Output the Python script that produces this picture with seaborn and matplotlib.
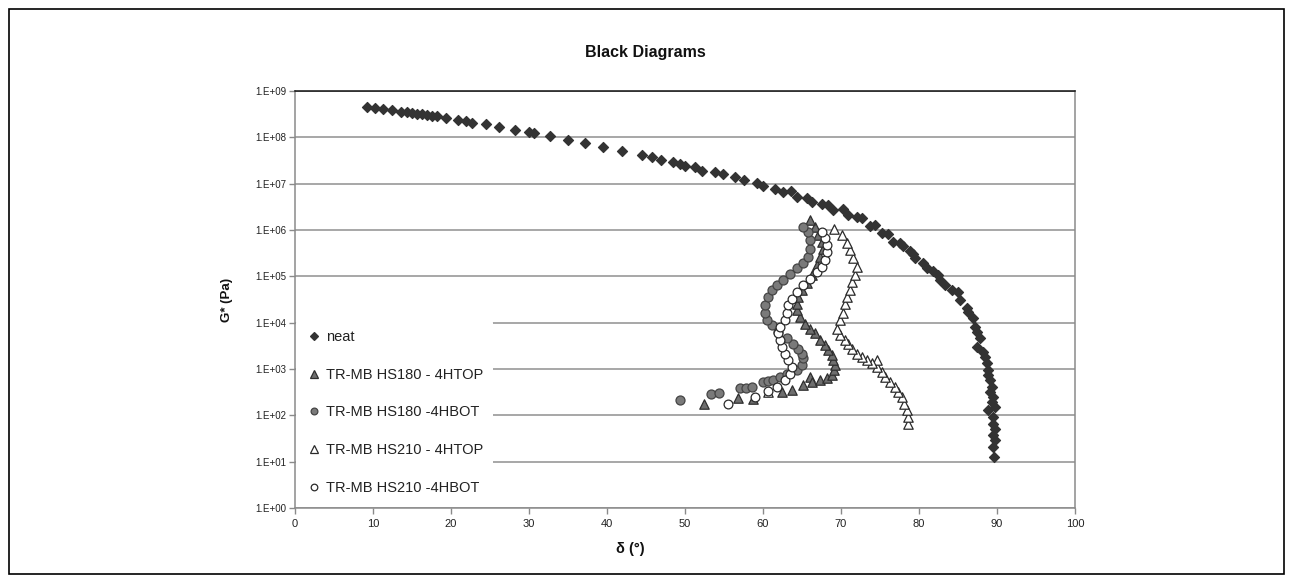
import numpy as np
import pandas as pd
import matplotlib
matplotlib.use("Agg")
import matplotlib.pyplot as plt
import seaborn as sns
from matplotlib.lines import Line2D
from matplotlib.patches import Rectangle

# ---------------- data ----------------
neat_delta = [9.27, 10.26, 11.32, 12.48, 13.59, 14.32, 14.96, 15.6, 16.24, 16.88, 17.52, 18.25,
              19.32, 20.85, 21.92, 22.74, 24.49, 26.2, 28.25, 30.04, 30.64, 32.69, 34.96, 37.22,
              39.53, 41.97, 44.44, 45.8, 46.9, 48.42, 49.36, 50.0, 51.28, 52.14, 53.85, 54.91,
              56.41, 57.56, 59.19, 60.04, 61.54, 62.61, 63.55, 64.32, 65.6, 66.24, 67.52, 68.38,
              69.02, 70.3, 70.94, 72.09, 72.65, 73.72, 74.36, 75.21, 76.0, 76.7, 77.56, 77.99,
              78.85, 79.27, 79.49, 80.56, 80.98, 81.84, 82.48, 82.69, 83.33, 84.19, 85.04, 85.26,
              86.11, 86.32, 86.97, 87.18, 87.39, 87.82, 87.39, 88.25, 88.46, 88.68, 88.89, 88.89,
              89.1, 89.32, 89.1, 89.53, 89.32, 88.89, 89.74, 89.53, 89.53, 89.74, 89.53, 89.74,
              89.53, 89.62]
neat_logG = [8.66, 8.64, 8.61, 8.58, 8.55, 8.54, 8.52, 8.51, 8.50, 8.48, 8.47, 8.45,
             8.42, 8.37, 8.35, 8.32, 8.28, 8.22, 8.16, 8.11, 8.09, 8.02, 7.95, 7.88,
             7.79, 7.70, 7.62, 7.58, 7.52, 7.47, 7.42, 7.39, 7.35, 7.28, 7.26, 7.21,
             7.14, 7.08, 7.01, 6.95, 6.88, 6.82, 6.85, 6.72, 6.70, 6.61, 6.56, 6.53,
             6.43, 6.45, 6.32, 6.29, 6.26, 6.08, 6.11, 5.93, 5.91, 5.75, 5.72, 5.65,
             5.55, 5.48, 5.39, 5.28, 5.17, 5.12, 5.03, 4.92, 4.81, 4.70, 4.67, 4.49,
             4.31, 4.23, 4.09, 3.91, 3.80, 3.66, 3.48, 3.37, 3.26, 3.12, 2.97, 2.87,
             2.76, 2.61, 2.51, 2.40, 2.29, 2.11, 2.18, 1.97, 1.82, 1.71, 1.57, 1.46,
             1.32, 1.09]

hs180top_delta = [52.44, 56.84, 58.76, 62.39, 63.68, 65.09, 66.03, 66.24, 67.31, 68.16, 68.8,
                  69.1, 69.23, 69.02, 68.8, 68.38, 67.95, 67.31, 66.67, 66.03, 65.38, 64.74,
                  64.4, 64.32, 64.53, 64.96, 65.6, 66.24, 66.88, 67.31, 67.74, 67.52, 67.09,
                  66.67, 66.03]
hs180top_logG = [2.25, 2.38, 2.35, 2.51, 2.54, 2.65, 2.83, 2.72, 2.76, 2.80, 2.87,
                 2.97, 3.08, 3.19, 3.30, 3.41, 3.51, 3.62, 3.77, 3.87, 3.98, 4.13,
                 4.27, 4.41, 4.56, 4.70, 4.85, 5.03, 5.24, 5.42, 5.60, 5.75, 5.89,
                 6.06, 6.21]

hs180bot_delta = [49.3, 53.3, 54.4, 57.1, 57.8, 58.55, 60.04, 60.7, 61.3, 62.18, 63.03, 64.32,
                  64.96, 65.17, 64.96, 64.53, 63.89, 63.03, 61.97, 61.11, 60.47, 60.26, 60.26,
                  60.68, 61.11, 61.75, 62.61, 63.46, 64.32, 65.17, 65.81, 66.03, 66.03, 65.81,
                  65.17]
hs180bot_logG = [2.34, 2.46, 2.48, 2.59, 2.60, 2.61, 2.72, 2.74, 2.76, 2.83, 2.90, 2.97,
                 3.08, 3.23, 3.33, 3.44, 3.55, 3.66, 3.80, 3.95, 4.05, 4.20, 4.38,
                 4.56, 4.70, 4.81, 4.92, 5.06, 5.17, 5.28, 5.42, 5.60, 5.78, 5.96,
                 6.07]

hs210top_delta = [78.63, 78.63, 78.42, 78.08, 77.78, 77.35, 76.92, 76.28, 75.64, 75.21, 74.57,
                  74.57, 73.93, 73.29, 72.65, 72.01, 71.37, 70.94, 70.51, 69.87, 69.44, 69.87,
                  70.3, 70.51, 70.73, 71.15, 71.37, 71.79, 72.01, 71.58, 71.15, 70.73, 70.09,
                  69.1, 60.6]
hs210top_logG = [1.81, 1.97, 2.11, 2.25, 2.40, 2.51, 2.62, 2.72, 2.83, 2.94, 3.05,
                 3.19, 3.12, 3.19, 3.26, 3.33, 3.44, 3.55, 3.62, 3.73, 3.87, 4.05,
                 4.20, 4.41, 4.56, 4.70, 4.88, 5.03, 5.21, 5.39, 5.57, 5.71, 5.89,
                 6.03, 2.51]

hs210bot_delta = [55.56, 58.97, 60.68, 61.75, 62.82, 63.46, 63.68, 63.25, 62.82, 62.39, 62.18,
                  61.97, 62.18, 62.82, 63.03, 63.25, 63.68, 64.32, 65.17, 66.03, 66.88, 67.52,
                  67.95, 68.16, 68.16, 67.95, 67.52]
hs210bot_logG = [2.24, 2.40, 2.53, 2.62, 2.76, 2.90, 3.05, 3.19, 3.33, 3.48, 3.62,
                 3.77, 3.91, 4.05, 4.20, 4.38, 4.52, 4.67, 4.81, 4.95, 5.10, 5.21,
                 5.35, 5.53, 5.67, 5.82, 5.96]

series_names = ["neat", "TR-MB HS180 - 4HTOP", "TR-MB HS180 -4HBOT",
                "TR-MB HS210 - 4HTOP", "TR-MB HS210 -4HBOT"]
x_ticks = [0, 10, 20, 30, 40, 50, 60, 70, 80, 90, 100]
y_exponents = [0, 1, 2, 3, 4, 5, 6, 7, 8, 9]

# ---------------- build table ----------------
pairs = [(neat_delta, neat_logG), (hs180top_delta, hs180top_logG),
         (hs180bot_delta, hs180bot_logG), (hs210top_delta, hs210top_logG),
         (hs210bot_delta, hs210bot_logG)]
frames = []
for name, (d, lg) in zip(series_names, pairs):
    frames.append(pd.DataFrame({"delta": d, "G": 10.0 ** np.asarray(lg), "series": name}))
df = pd.concat(frames, ignore_index=True)

styles = {
    series_names[0]: dict(marker="D", fc="#333333", ec="#333333", s=26),
    series_names[1]: dict(marker="^", fc="#6e6e6e", ec="#2e2e2e", s=46),
    series_names[2]: dict(marker="o", fc="#7a7a7a", ec="#444444", s=42),
    series_names[3]: dict(marker="^", fc="white", ec="#2a2a2a", s=46),
    series_names[4]: dict(marker="o", fc="white", ec="#2a2a2a", s=40),
}

# ---------------- figure ----------------
sns.set_theme(style="white")
plt.rcParams["font.family"] = ["Liberation Sans", "DejaVu Sans"]

W, H = 1293, 583
fig = plt.figure(figsize=(W / 100, H / 100), dpi=100)
fig.patch.set_facecolor("white")
L, R, T, B = 295, 1075, 91, 508
ax = fig.add_axes([L / W, 1 - B / H, (R - L) / W, (B - T) / H])

for name in series_names:
    st = styles[name]
    sub = df[df["series"] == name]
    sns.scatterplot(data=sub, x="delta", y="G", marker=st["marker"], s=st["s"],
                    color=st["fc"], edgecolor=st["ec"], linewidth=0.9, ax=ax,
                    legend=False, zorder=3)

ax.set_yscale("log")
ax.set_xlim(0, 100)
ax.set_ylim(1, 1e9)
ax.set_yticks([10.0 ** e for e in y_exponents])
ax.set_yticklabels([f"1.E+{e:02d}" for e in y_exponents])
ax.yaxis.set_minor_locator(matplotlib.ticker.NullLocator())
ax.set_xticks(x_ticks)
ax.set_xticklabels([str(v) for v in x_ticks])

ax.yaxis.grid(True, color="#8f8f8f", lw=1.1, zorder=0)
ax.xaxis.grid(False)
ax.set_axisbelow(True)
for side in ["left", "bottom", "right"]:
    ax.spines[side].set_color("#8a8a8a")
    ax.spines[side].set_linewidth(1.1)
ax.spines["top"].set_color("#111111")
ax.spines["top"].set_linewidth(1.1)
ax.tick_params(axis="y", which="major", direction="out", length=4, width=1,
               color="#8a8a8a", labelsize=7, labelcolor="#222222", pad=2)
ax.tick_params(axis="x", which="major", direction="out", length=4, width=1,
               color="#8a8a8a", labelsize=8, labelcolor="#222222", pad=4)
ax.tick_params(axis="x", bottom=True)
ax.tick_params(axis="y", left=True)

ax.set_xlabel("")
ax.set_ylabel("")
fig.text(630 / W, 1 - 549 / H, "δ (°)", ha="center", va="center",
         fontsize=10.5, fontweight="bold", color="#111111")
fig.text(227 / W, 1 - 300 / H, "G* (Pa)", ha="center", va="center", rotation=90,
         fontsize=9.5, fontweight="bold", color="#111111")
fig.text(645 / W, 1 - 52 / H, "Black Diagrams", ha="center", va="center",
         fontsize=11.5, fontweight="bold", color="#111111")

handles = []
for name in series_names:
    st = styles[name]
    handles.append(Line2D([], [], linestyle="none", marker=st["marker"],
                          markersize=np.sqrt(st["s"]) * 0.75, markerfacecolor=st["fc"],
                          markeredgecolor=st["ec"], markeredgewidth=0.9))
leg = ax.legend(handles, series_names, loc="upper left",
                bbox_to_anchor=(296 / W, 1 - 320 / H), bbox_transform=fig.transFigure,
                frameon=True, facecolor="white", edgecolor="none", framealpha=1,
                fontsize=10.5, labelspacing=1.62, handlelength=1.0, handletextpad=0.35,
                borderpad=0.7, borderaxespad=0)
leg.set_zorder(10)
for t in leg.get_texts():
    t.set_color("#222222")

fig.patches.append(Rectangle((9 / W, 9 / H), (W - 18) / W, (H - 18) / H,
                             transform=fig.transFigure, fill=False,
                             edgecolor="black", linewidth=1.2))

fig.savefig("out.png", dpi=100, facecolor="white")
